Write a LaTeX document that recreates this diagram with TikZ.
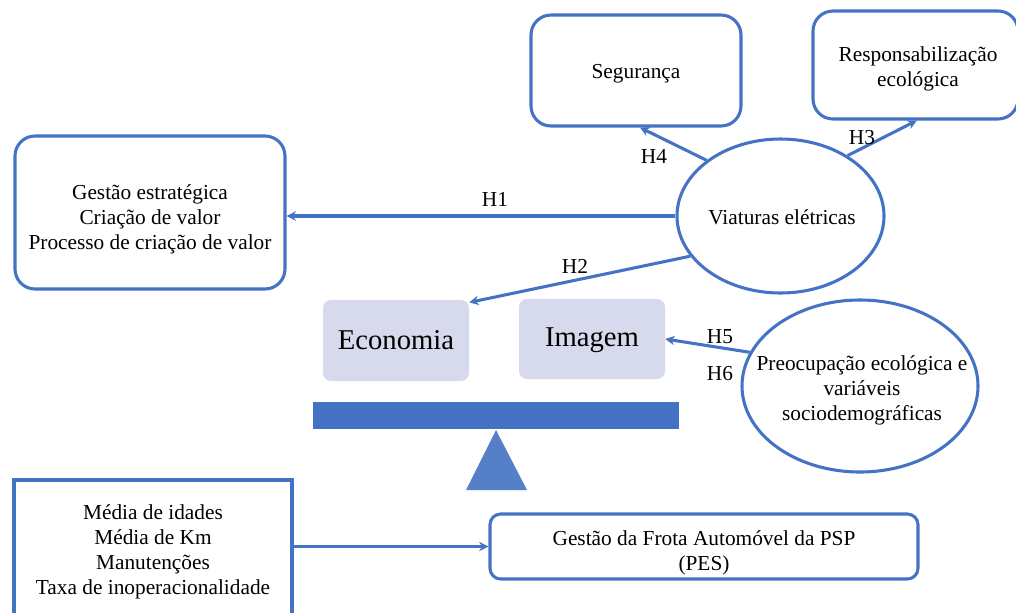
\documentclass[tikz,border=0pt]{standalone}
\usepackage{fontspec}
\setmainfont{Liberation Serif}
\usetikzlibrary{shapes.geometric,arrows.meta}
\definecolor{lblue}{HTML}{4472C4}
\definecolor{tblue}{HTML}{5580C8}
\definecolor{lav}{HTML}{D6DAEC}
\tikzset{
  box/.style={draw=lblue, line width=2.3pt, rounded corners=15pt, inner sep=0pt},
  oval/.style={draw=lblue, line width=2.3pt, ellipse, inner sep=0pt},
  lav box/.style={fill=lav, rounded corners=6pt, inner sep=0pt},
  txt/.style={align=center, inner sep=0pt, font=\fontsize{16}{18.75}\selectfont},
  big/.style={font=\fontsize{21.5}{24}\selectfont, inner sep=0pt},
  conn/.style={draw=lblue, line width=2.3pt, -{Stealth[length=7pt,width=7pt]}},
  lab/.style={font=\fontsize{16}{18}\selectfont, inner sep=0pt}
}
\begin{document}
\begin{tikzpicture}[x=0.75pt,y=-0.75pt]
\useasboundingbox (0,0) rectangle (1016,612);
% shapes
\node[box, minimum width=210*0.75pt, minimum height=111*0.75pt] (seg) at (636,70.5) {};
\node[box, minimum width=205*0.75pt, minimum height=108*0.75pt] (resp) at (915.5,65) {};
\node[box, minimum width=270*0.75pt, minimum height=153*0.75pt] (gest) at (150,212.5) {};
\node[oval, minimum width=207*0.75pt, minimum height=154*0.75pt] (viat) at (780.5,216) {};
\node[lav box, minimum width=146*0.75pt, minimum height=81*0.75pt] (eco) at (396,340.5) {};
\node[lav box, minimum width=146*0.75pt, minimum height=80*0.75pt] (img) at (592,339) {};
\node[oval, minimum width=236*0.75pt, minimum height=172*0.75pt] (preo) at (860,386) {};
\node[draw=lblue, line width=2.3pt, minimum width=278*0.75pt, minimum height=140*0.75pt, inner sep=0pt] (med) at (153,550) {};
\node[box, rounded corners=8pt, minimum width=428*0.75pt, minimum height=65*0.75pt] (frota) at (704,546.5) {};
% texts
\node[txt] (seg-t) at (636,74) {Segurança};
\node[txt] (resp-t) at (918,69) {Responsabilização\\ecológica};
\node[txt] (gest-t) at (150,219) {Gestão estratégica\\Criação de valor\\Processo de criação de valor};
\node[txt] (viat-t) at (782,217) {Viaturas elétricas};
\node[big] (eco-t) at (396,340.5) {Economia};
\node[big] (img-t) at (592,340.5) {Imagem};
\node[txt] (preo-t) at (862,390.5) {Preocupação ecológica e\\variáveis\\sociodemográficas};
\node[txt] (med-t) at (153,551.5) {Média de idades\\Média de Km\\Manutenções\\Taxa de inoperacionalidade};
\node[txt] (frota-t) at (704,552.5) {Gestão da Frota Automóvel da PSP\\(PES)};
% balance
\fill[lblue] (313,402) rectangle (679,429);
\fill[tblue] (496,430) -- (527,490) -- (466,490) -- cycle;
% connectors
\draw[conn] (viat.west) -- (viat.west -| gest.east);
\draw[conn] (viat.204) -- ([yshift=-2pt]eco.north east);
\draw[conn] (viat.143) -- ([xshift=3pt]seg.south);
\draw[conn] (viat.42) -- ([xshift=1pt]resp.south);
\draw[conn] (preo.163) -- (img.east);
\draw[conn] (med.east |- frota.west) -- (frota.west);
% labels
\node[lab] (h1) at (495,199) {H1};
\node[lab] (h2) at (575,266) {H2};
\node[lab] (h3) at (862,138) {H3};
\node[lab] (h4) at (654,156) {H4};
\node[lab] (h5) at (720,337) {H5};
\node[lab] (h6) at (720,374) {H6};
\end{tikzpicture}
\end{document}
